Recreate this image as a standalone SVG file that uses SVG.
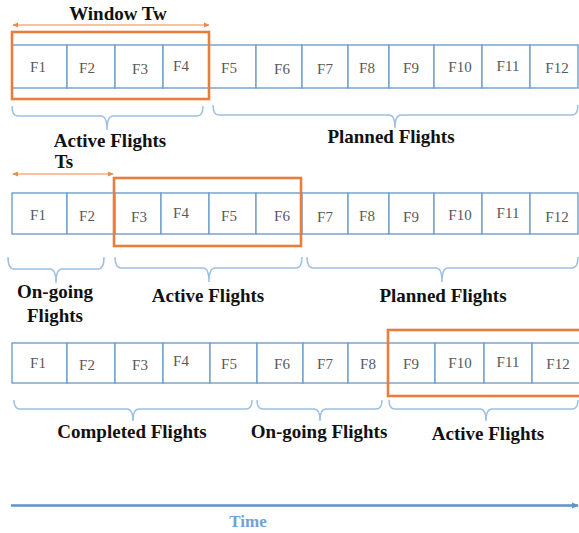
<svg xmlns="http://www.w3.org/2000/svg" width="579" height="533" viewBox="0 0 579 533">
<style>
.cell rect{fill:#fff;stroke:#6f9fcd;stroke-width:1.4}
.cell text{font-family:'Liberation Serif','Times New Roman','DejaVu Serif',serif;font-size:15px;fill:#595959;text-anchor:middle}
.win{fill:none;stroke:#e97e3c;stroke-width:2.6}
.brace{fill:none;stroke:#9dc0e2;stroke-width:1.5}
.lbl{font-family:'Liberation Serif','Times New Roman','DejaVu Serif',serif;font-size:19px;font-weight:bold;fill:#111;text-anchor:middle}
.tm{font-family:'Liberation Serif','Times New Roman','DejaVu Serif',serif;font-size:17px;font-weight:bold;fill:#6fa3d6;text-anchor:middle}
.oarr{stroke:#ec8a4d;stroke-width:1.2;fill:none}
</style>
<defs>
<marker id="oh" viewBox="0 0 8 8" refX="7" refY="4" markerWidth="6" markerHeight="6" markerUnits="userSpaceOnUse" orient="auto-start-reverse"><path d="M0,0.5 L8,4 L0,7.5 z" fill="#ec8a4d"/></marker>
<marker id="bh" viewBox="0 0 8 8" refX="7" refY="4" markerWidth="7" markerHeight="7" markerUnits="userSpaceOnUse" orient="auto"><path d="M0,0.5 L8,4 L0,7.5 z" fill="#5b93cc"/></marker>
</defs>
<rect width="579" height="533" fill="#fff"/>

<!-- Row 1 -->
<g id="r1">
<g id="r1f1" class="cell"><rect x="12" y="45" width="55" height="43"/><text x="38" y="72">F1</text></g>
<g id="r1f2" class="cell"><rect x="67" y="45" width="48" height="43"/><text x="87" y="73">F2</text></g>
<g id="r1f3" class="cell"><rect x="115" y="45" width="48" height="43"/><text x="140" y="74">F3</text></g>
<g id="r1f4" class="cell"><rect x="163" y="45" width="46" height="43"/><text x="181" y="71">F4</text></g>
<g id="r1f5" class="cell"><rect x="209" y="45" width="47" height="43"/><text x="229" y="73">F5</text></g>
<g id="r1f6" class="cell"><rect x="256" y="45" width="46" height="43"/><text x="282" y="74">F6</text></g>
<g id="r1f7" class="cell"><rect x="302" y="45" width="46" height="43"/><text x="325" y="74">F7</text></g>
<g id="r1f8" class="cell"><rect x="348" y="45" width="41" height="43"/><text x="367" y="73">F8</text></g>
<g id="r1f9" class="cell"><rect x="389" y="45" width="45" height="43"/><text x="411" y="73">F9</text></g>
<g id="r1f10" class="cell"><rect x="434" y="45" width="48" height="43"/><text x="460" y="72">F10</text></g>
<g id="r1f11" class="cell"><rect x="482" y="45" width="48" height="43"/><text x="508" y="71">F11</text></g>
<g id="r1f12" class="cell"><rect x="530" y="45" width="48" height="43"/><text x="557" y="73">F12</text></g>
</g>
<g id="win1"><rect class="win" x="12" y="32" width="197" height="67"/></g>
<g id="lbl-tw"><text class="lbl" x="118" y="20">Window Tw</text></g>

<!-- Row 2 -->
<g id="r2">
<g id="r2f1" class="cell"><rect x="12" y="193" width="55" height="41"/><text x="38" y="220">F1</text></g>
<g id="r2f2" class="cell"><rect x="67" y="193" width="48" height="41"/><text x="87" y="221">F2</text></g>
<g id="r2f3" class="cell"><rect x="115" y="193" width="46" height="41"/><text x="139" y="222">F3</text></g>
<g id="r2f4" class="cell"><rect x="161" y="193" width="48" height="41"/><text x="181" y="218">F4</text></g>
<g id="r2f5" class="cell"><rect x="209" y="193" width="47" height="41"/><text x="229" y="221">F5</text></g>
<g id="r2f6" class="cell"><rect x="256" y="193" width="46" height="41"/><text x="282" y="221">F6</text></g>
<g id="r2f7" class="cell"><rect x="302" y="193" width="46" height="41"/><text x="325" y="222">F7</text></g>
<g id="r2f8" class="cell"><rect x="348" y="193" width="41" height="41"/><text x="367" y="221">F8</text></g>
<g id="r2f9" class="cell"><rect x="389" y="193" width="45" height="41"/><text x="411" y="222">F9</text></g>
<g id="r2f10" class="cell"><rect x="434" y="193" width="48" height="41"/><text x="460" y="220">F10</text></g>
<g id="r2f11" class="cell"><rect x="482" y="193" width="48" height="41"/><text x="508" y="218">F11</text></g>
<g id="r2f12" class="cell"><rect x="530" y="193" width="48" height="41"/><text x="557" y="222">F12</text></g>
</g>
<g id="win2"><rect class="win" x="114" y="178" width="187" height="68"/></g>
<g id="lbl-ts"><text class="lbl" x="64" y="168">Ts</text></g>

<!-- Row 3 -->
<g id="r3">
<g id="r3f1" class="cell"><rect x="12" y="343" width="55" height="40"/><text x="38" y="368">F1</text></g>
<g id="r3f2" class="cell"><rect x="67" y="343" width="48" height="40"/><text x="87" y="370">F2</text></g>
<g id="r3f3" class="cell"><rect x="115" y="343" width="48" height="40"/><text x="140" y="370">F3</text></g>
<g id="r3f4" class="cell"><rect x="163" y="343" width="47" height="40"/><text x="181" y="366">F4</text></g>
<g id="r3f5" class="cell"><rect x="210" y="343" width="47" height="40"/><text x="229" y="369">F5</text></g>
<g id="r3f6" class="cell"><rect x="257" y="343" width="46" height="40"/><text x="282" y="369">F6</text></g>
<g id="r3f7" class="cell"><rect x="303" y="343" width="45" height="40"/><text x="325" y="369">F7</text></g>
<g id="r3f8" class="cell"><rect x="348" y="343" width="40" height="40"/><text x="368" y="369">F8</text></g>
<g id="r3f9" class="cell"><rect x="388" y="343" width="47" height="40"/><text x="411" y="369">F9</text></g>
<g id="r3f10" class="cell"><rect x="435" y="343" width="49" height="40"/><text x="460" y="368">F10</text></g>
<g id="r3f11" class="cell"><rect x="484" y="343" width="48" height="40"/><text x="508" y="367">F11</text></g>
<g id="r3f12" class="cell"><rect x="532" y="343" width="50" height="40"/><text x="558" y="369">F12</text></g>
</g>
<g id="win3"><rect class="win" x="388" y="330" width="200" height="66"/></g>

<!-- Braces and labels -->
<g id="braces">
<path class="brace" d="M12,106 Q12,116 18,116 H101 Q107,116 107,130 Q107,116 113,116 H197 Q203,116 203,106"/>
<path class="brace" d="M213,105 Q213,115 219,115 H389 Q395,115 395,128 Q395,115 401,115 H572 Q578,115 578,105"/>
<path class="brace" d="M8,257 Q8,269 14,269 H50 Q56,269 56,283 Q56,269 62,269 H98 Q104,269 104,257"/>
<path class="brace" d="M115,257 Q115,268 121,268 H203 Q209,268 209,282 Q209,268 215,268 H296 Q302,268 302,257"/>
<path class="brace" d="M307,257 Q307,268 313,268 H436 Q442,268 442,282 Q442,268 448,268 H572 Q578,268 578,257"/>
<path class="brace" d="M14,400 Q14,409 20,409 H127 Q133,409 133,421 Q133,409 139,409 H246 Q252,409 252,400"/>
<path class="brace" d="M257,400 Q257,409 263,409 H314 Q320,409 320,421 Q320,409 326,409 H376 Q382,409 382,400"/>
<path class="brace" d="M389,400 Q389,409 395,409 H480 Q486,409 486,421 Q486,409 492,409 H572 Q578,409 578,400"/>
</g>
<g id="labels">
<text class="lbl" x="110" y="147">Active Flights</text>
<text class="lbl" x="391" y="143">Planned Flights</text>
<text class="lbl" x="55" y="298">On-going</text>
<text class="lbl" x="55" y="322">Flights</text>
<text class="lbl" x="208" y="302">Active Flights</text>
<text class="lbl" x="443" y="302">Planned Flights</text>
<text class="lbl" x="132" y="438">Completed Flights</text>
<text class="lbl" x="319" y="438">On-going Flights</text>
<text class="lbl" x="488" y="440">Active Flights</text>
</g>

<!-- Connectors / arrows -->
<g id="connectors">
<line class="oarr" x1="13" y1="25" x2="209" y2="25" marker-start="url(#oh)" marker-end="url(#oh)"/>
<line class="oarr" x1="13" y1="174" x2="113" y2="174" marker-start="url(#oh)" marker-end="url(#oh)"/>
<line x1="11" y1="505.5" x2="578" y2="505.5" stroke="#5b93cc" stroke-width="2.5" marker-end="url(#bh)"/>
</g>
<g id="time"><text class="tm" x="248" y="527">Time</text></g>
</svg>
